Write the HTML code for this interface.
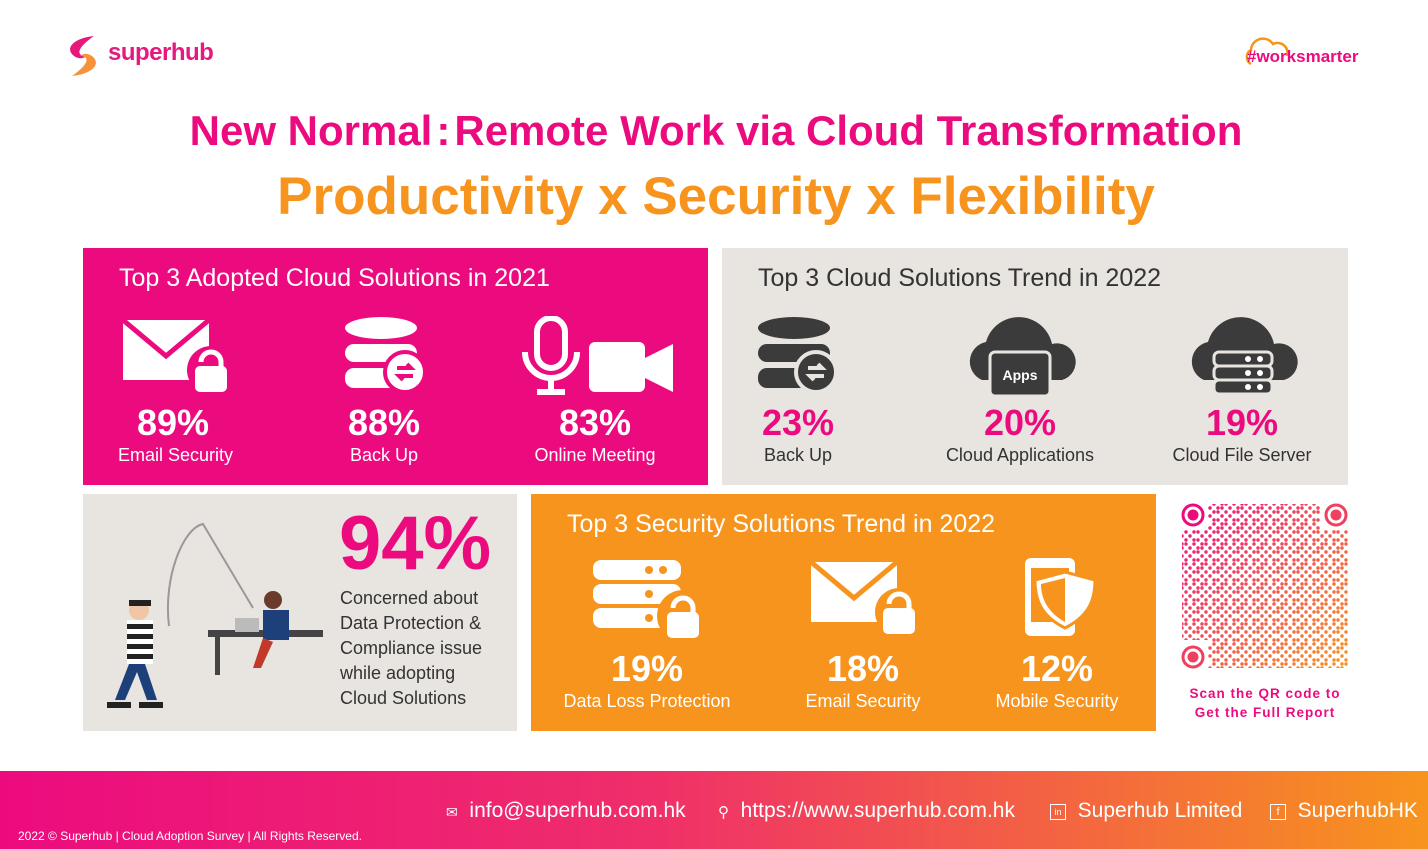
<!DOCTYPE html>
<html><head><meta charset="utf-8"><style>
body{margin:0;width:1428px;height:849px;background:#fff;position:relative;overflow:hidden;font-family:"Liberation Sans",sans-serif}
.a{position:absolute}
.t{position:absolute;text-align:center}
.pk{color:#ec0b7f}
</style></head><body>
<svg class="a" style="left:64px;top:34px" width="42" height="44" viewBox="0 0 42 44">
<path d="M30 2 C10 4 0 14 10 22 C16 26 20 24 22 22 C14 22 10 16 30 2Z" fill="#e6187a"/>
<path d="M8 42 C28 40 38 30 28 22 C22 18 18 20 16 22 C24 22 28 28 8 42Z" fill="#f7923a"/>
</svg>
<div class="a" style="left:108px;top:39px;font-size:24px;color:#e5197e;font-weight:bold;letter-spacing:-0.5px">superhub</div>
<svg class="a" style="left:1243px;top:34px" width="50" height="36"><path d="M8 30 A8 8 0 0 1 8 16 A12 12 0 0 1 30 10 A10 10 0 0 1 44 22" fill="none" stroke="#f7941d" stroke-width="2.5"/></svg>
<div class="a" style="left:1247px;top:47px;font-size:17px;font-weight:bold;color:#ec0b7f">#worksmarter</div>

<div class="t pk" style="left:0;width:1432px;top:107px;font-size:42px;font-weight:bold">New Normal<span style="margin:0 4px">:</span>Remote Work via Cloud Transformation</div>
<div class="t" style="left:0;width:1432px;top:166px;font-size:53px;font-weight:bold;color:#f7941d">Productivity x Security x Flexibility</div>

<div class="a" style="left:83px;top:248px;width:625px;height:237px;background:#ec0b7f;color:#fff">
<div class="a" style="left:36px;top:16px;font-size:25px">Top 3 Adopted Cloud Solutions in 2021</div>
<svg class="a" style="left:38px;top:70px" width="118" height="80"><rect x="2" y="2" width="86" height="60" fill="#fff"/><path d="M2 2 L45 38 L88 2" fill="none" stroke="#ec0b7f" stroke-width="5"/><circle cx="90" cy="52" r="24" fill="#ec0b7f"/><path d="M80 44 a10 10 0 0 1 20 0 v6" fill="none" stroke="#fff" stroke-width="5"/><rect x="74" y="48" width="32" height="26" rx="5" fill="#fff"/></svg>
<svg class="a" style="left:262px;top:68px" width="84" height="80"><ellipse cx="36" cy="12" rx="36" ry="11" fill="#fff"/><rect x="0" y="28" width="72" height="18" rx="9" fill="#fff"/><rect x="0" y="52" width="72" height="20" rx="9" fill="#fff"/><circle cx="60" cy="56" r="20" fill="#fff" stroke="#ec0b7f" stroke-width="4"/><path d="M52 52h14l-4-4M68 60H54l4 4" stroke="#ec0b7f" stroke-width="4" fill="none"/></svg>
<svg class="a" style="left:438px;top:68px" width="154" height="82"><rect x="16" y="2" width="28" height="50" rx="14" fill="none" stroke="#fff" stroke-width="6"/><path d="M4 36 a26 26 0 0 0 52 0M30 62v12M16 76h28" stroke="#fff" stroke-width="6" fill="none"/><rect x="68" y="26" width="56" height="50" rx="6" fill="#fff"/><path d="M124 42l28-14v48l-28-14z" fill="#fff"/></svg>
<div class="t" style="left:40px;width:100px;top:154px;font-size:36px;font-weight:bold">89%</div>
<div class="t" style="left:20px;width:145px;top:197px;font-size:18px">Email Security</div>
<div class="t" style="left:251px;width:100px;top:154px;font-size:36px;font-weight:bold">88%</div>
<div class="t" style="left:251px;width:100px;top:197px;font-size:18px">Back Up</div>
<div class="t" style="left:462px;width:100px;top:154px;font-size:36px;font-weight:bold">83%</div>
<div class="t" style="left:432px;width:160px;top:197px;font-size:18px">Online Meeting</div>
</div>

<div class="a" style="left:722px;top:248px;width:626px;height:237px;background:#e8e4e0;color:#333">
<div class="a" style="left:36px;top:16px;font-size:25px">Top 3 Cloud Solutions Trend in 2022</div>
<svg class="a" style="left:36px;top:68px" width="84" height="80"><ellipse cx="36" cy="12" rx="36" ry="11" fill="#3b3b3b"/><rect x="0" y="28" width="72" height="18" rx="9" fill="#3b3b3b"/><rect x="0" y="52" width="72" height="20" rx="9" fill="#3b3b3b"/><circle cx="58" cy="56" r="20" fill="#3b3b3b" stroke="#e8e4e0" stroke-width="4"/><path d="M50 52h14l-4-4M66 60H52l4 4" stroke="#e8e4e0" stroke-width="4" fill="none"/></svg>
<svg class="a" style="left:240px;top:66px" width="120" height="82"><path d="M20 66 a20 20 0 0 1 4-38 a34 34 0 0 1 66 2 a18 18 0 0 1 10 36z" fill="#3b3b3b"/><rect x="28" y="38" width="60" height="44" rx="5" fill="#3b3b3b" stroke="#e8e4e0" stroke-width="3"/><text x="58" y="66" font-size="14" font-weight="bold" fill="#fff" text-anchor="middle" font-family="Liberation Sans">Apps</text></svg>
<svg class="a" style="left:462px;top:66px" width="120" height="82"><path d="M20 66 a20 20 0 0 1 4-38 a34 34 0 0 1 66 2 a18 18 0 0 1 10 36z" fill="#3b3b3b"/><g fill="#3b3b3b" stroke="#e8e4e0" stroke-width="3"><rect x="30" y="38" width="58" height="14" rx="5"/><rect x="30" y="52" width="58" height="14" rx="5"/><rect x="30" y="66" width="58" height="14" rx="5"/></g><g fill="#fff"><circle cx="64" cy="45" r="3"/><circle cx="76" cy="45" r="3"/><circle cx="64" cy="59" r="3"/><circle cx="76" cy="59" r="3"/><circle cx="64" cy="73" r="3"/><circle cx="76" cy="73" r="3"/></g></svg>
<div class="t pk" style="left:26px;width:100px;top:154px;font-size:36px;font-weight:bold">23%</div>
<div class="t" style="left:26px;width:100px;top:197px;font-size:18px">Back Up</div>
<div class="t pk" style="left:248px;width:100px;top:154px;font-size:36px;font-weight:bold">20%</div>
<div class="t" style="left:208px;width:180px;top:197px;font-size:18px">Cloud Applications</div>
<div class="t pk" style="left:470px;width:100px;top:154px;font-size:36px;font-weight:bold">19%</div>
<div class="t" style="left:440px;width:160px;top:197px;font-size:18px">Cloud File Server</div>
</div>

<div class="a" style="left:83px;top:494px;width:434px;height:237px;background:#e8e4e0;color:#333">
<svg class="a" style="left:20px;top:24px" width="220" height="200">
<path d="M66 108 C60 60 80 10 100 6 L150 90" fill="none" stroke="#999" stroke-width="2"/>
<rect x="105" y="112" width="130" height="7" fill="#444"/><rect x="112" y="119" width="5" height="38" fill="#444"/><rect x="222" y="119" width="5" height="38" fill="#444"/>
<rect x="132" y="100" width="24" height="14" fill="#bbb"/>
<circle cx="170" cy="82" r="9" fill="#6a3b2a"/><rect x="160" y="92" width="26" height="30" fill="#1d3f7a"/><path d="M160 120 l-10 30 h8 l12-26z" fill="#c0392b"/>
<circle cx="36" cy="92" r="10" fill="#f1c6a6"/><rect x="26" y="82" width="22" height="6" fill="#222"/>
<g><rect x="24" y="102" width="26" height="44" fill="#fff"/><rect x="24" y="106" width="26" height="5" fill="#222"/><rect x="24" y="116" width="26" height="5" fill="#222"/><rect x="24" y="126" width="26" height="5" fill="#222"/><rect x="24" y="136" width="26" height="5" fill="#222"/></g>
<path d="M26 146 l-14 36 h10 l12-28 l10 28 h10 l-12-36z" fill="#1d3f7a"/><rect x="4" y="184" width="24" height="6" fill="#222"/><rect x="36" y="184" width="24" height="6" fill="#222"/>
</svg>
<div class="a pk" style="left:256px;top:6px;font-size:76px;font-weight:bold">94%</div>
<div class="a" style="left:257px;top:92px;font-size:18px;line-height:25px">Concerned about<br>Data Protection &amp;<br>Compliance issue<br>while adopting<br>Cloud Solutions</div>
</div>

<div class="a" style="left:531px;top:494px;width:625px;height:237px;background:#f7941d;color:#fff">
<div class="a" style="left:36px;top:16px;font-size:25px">Top 3 Security Solutions Trend in 2022</div>
<svg class="a" style="left:60px;top:64px" width="120" height="84"><g fill="#fff"><rect x="2" y="2" width="88" height="20" rx="8"/><rect x="2" y="26" width="88" height="20" rx="8"/><rect x="2" y="50" width="88" height="20" rx="8"/></g><g fill="#f7941d"><circle cx="58" cy="12" r="4"/><circle cx="72" cy="12" r="4"/><circle cx="58" cy="36" r="4"/><circle cx="58" cy="60" r="4"/></g><circle cx="92" cy="58" r="26" fill="#f7941d"/><path d="M82 50 a10 10 0 0 1 20 0 v6" fill="none" stroke="#fff" stroke-width="5"/><rect x="76" y="54" width="32" height="26" rx="5" fill="#fff"/></svg>
<svg class="a" style="left:278px;top:66px" width="118" height="80"><rect x="2" y="2" width="86" height="60" fill="#fff"/><path d="M2 2 L45 38 L88 2" fill="none" stroke="#f7941d" stroke-width="5"/><circle cx="90" cy="52" r="24" fill="#f7941d"/><path d="M80 44 a10 10 0 0 1 20 0 v6" fill="none" stroke="#fff" stroke-width="5"/><rect x="74" y="48" width="32" height="26" rx="5" fill="#fff"/></svg>
<svg class="a" style="left:490px;top:62px" width="80" height="84"><rect x="4" y="2" width="50" height="78" rx="6" fill="#fff"/><rect x="10" y="12" width="38" height="54" fill="#f7941d"/><path d="M44 16 l30 8 c0 20 -6 36 -30 48 c-24-12-30-28-30-48z" fill="#fff" stroke="#f7941d" stroke-width="3"/><path d="M44 22 v44 c-18-10-24-24-24-38z" fill="#f7941d"/></svg>
<div class="t" style="left:66px;width:100px;top:154px;font-size:36px;font-weight:bold">19%</div>
<div class="t" style="left:16px;width:200px;top:197px;font-size:18px">Data Loss Protection</div>
<div class="t" style="left:282px;width:100px;top:154px;font-size:36px;font-weight:bold">18%</div>
<div class="t" style="left:252px;width:160px;top:197px;font-size:18px">Email Security</div>
<div class="t" style="left:476px;width:100px;top:154px;font-size:36px;font-weight:bold">12%</div>
<div class="t" style="left:446px;width:160px;top:197px;font-size:18px">Mobile Security</div>
</div>

<svg class="a" style="left:1180px;top:502px" width="170" height="168">
<defs><linearGradient id="g" x1="0" y1="0" x2="1" y2="1"><stop offset="0" stop-color="#ec0b7f"/><stop offset="1" stop-color="#f7941d"/></linearGradient>
<pattern id="p" width="20" height="20" patternUnits="userSpaceOnUse"><g fill="#fff"><circle cx="2" cy="2" r="1.7"/><circle cx="6" cy="2" r="1.7"/><circle cx="14" cy="2" r="1.7"/><circle cx="2" cy="6" r="1.7"/><circle cx="10" cy="6" r="1.7"/><circle cx="18" cy="6" r="1.7"/><circle cx="6" cy="10" r="1.7"/><circle cx="14" cy="10" r="1.7"/><circle cx="18" cy="10" r="1.7"/><circle cx="2" cy="14" r="1.7"/><circle cx="10" cy="14" r="1.7"/><circle cx="6" cy="18" r="1.7"/><circle cx="14" cy="18" r="1.7"/><circle cx="18" cy="18" r="1.7"/></g></pattern>
<mask id="m"><rect width="170" height="168" fill="url(#p)"/><rect x="0" y="0" width="28" height="28" fill="#000"/><rect x="140" y="0" width="30" height="28" fill="#000"/><rect x="0" y="138" width="28" height="30" fill="#000"/></mask></defs>
<rect x="2" y="2" width="166" height="164" fill="url(#g)" mask="url(#m)"/>
<g fill="none" stroke-width="3"><circle cx="13" cy="13" r="10" stroke="#ec0b7f"/><circle cx="156" cy="13" r="10" stroke="#f04060"/><circle cx="13" cy="155" r="10" stroke="#f04060"/></g>
<circle cx="13" cy="13" r="5.5" fill="#ec0b7f"/><circle cx="156" cy="13" r="5.5" fill="#f04060"/><circle cx="13" cy="155" r="5.5" fill="#f04060"/>
</svg>
<div class="t pk" style="left:1170px;width:190px;top:684px;font-size:13.5px;font-weight:bold;line-height:19px;letter-spacing:1px">Scan the QR code to<br>Get the Full Report</div>

<div class="a" style="left:0;top:771px;width:1428px;height:78px;background:linear-gradient(90deg,#ec0b7f 0%,#ef2e6a 45%,#f7941d 100%);color:#fff">
<div class="a" style="left:18px;top:58px;font-size:12px">2022 © Superhub | Cloud Adoption Survey | All Rights Reserved.</div>
<div class="a" style="left:446px;top:28px;font-size:21px"><span style="font-size:14px">✉</span>&nbsp; info@superhub.com.hk</div>
<div class="a" style="left:718px;top:28px;font-size:21px"><span style="font-size:15px">⚲</span>&nbsp; https://www.superhub.com.hk</div>
<div class="a" style="left:1050px;top:28px;font-size:21px"><span style="display:inline-block;width:14px;height:14px;border:1.5px solid #fff;font-size:9px;line-height:14px;text-align:center;vertical-align:2px">in</span>&nbsp; Superhub Limited</div>
<div class="a" style="left:1270px;top:28px;font-size:21px"><span style="display:inline-block;width:14px;height:14px;border:1.5px solid #fff;font-size:11px;line-height:14px;text-align:center;vertical-align:2px">f</span>&nbsp; SuperhubHK</div>
</div>
</body></html>
